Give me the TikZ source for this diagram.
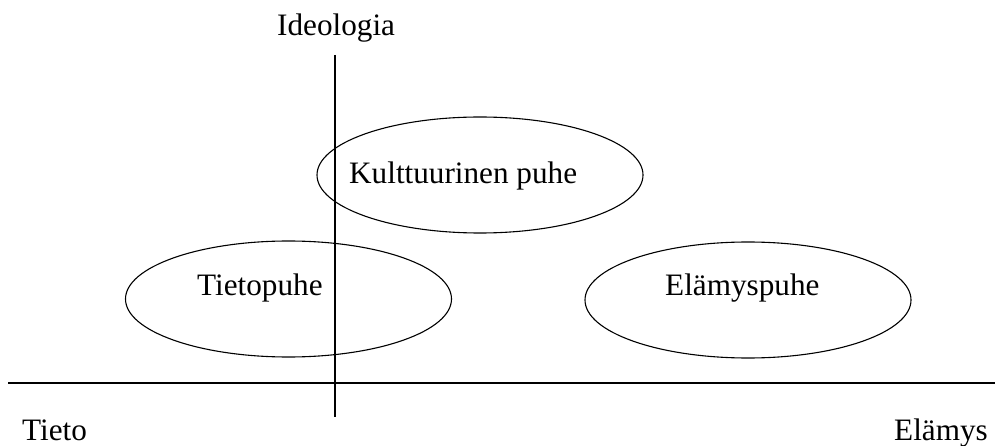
\documentclass[tikz,border=0pt]{standalone}
\usepackage{fontspec}
\setmainfont{Liberation Serif}
\usetikzlibrary{shapes.geometric}
\begin{document}
\begin{tikzpicture}[x=1pt,y=-1pt,
  lbl/.style={font=\fontsize{31.2}{35}\selectfont, inner sep=0pt},
  ell/.style={draw, line width=1.1pt, ellipse, inner sep=0pt, minimum width=326pt, minimum height=116pt},
]
\useasboundingbox (0,0) rectangle (995,446);
\coordinate (hl) at (8,383);
\coordinate (hr) at (995,383);
\coordinate (vt) at (335,55);
\coordinate (vb) at (335,417);
\draw[line width=1.1pt] (hl) -- (hr);
\draw[line width=1.1pt] (vt) -- (vb);
\node[ell] (k) at (480,175) {};
\node[ell] (t) at (288.5,299) {};
\node[ell] (e) at (748,300) {};
\node[lbl, anchor=base west] (kt) at (349,184) {Kulttuurinen puhe};
\node[lbl, anchor=base west] (tt) at (197,295) {Tietopuhe};
\node[lbl, anchor=base west] (et) at (665,295) {Elämyspuhe};
\node[lbl, anchor=base west] (id) at (277,36) {Ideologia};
\node[lbl, anchor=base west] (ti) at (22,440) {Tieto};
\node[lbl, anchor=base east] (el) at (988,440) {Elämys};
\end{tikzpicture}
\end{document}
